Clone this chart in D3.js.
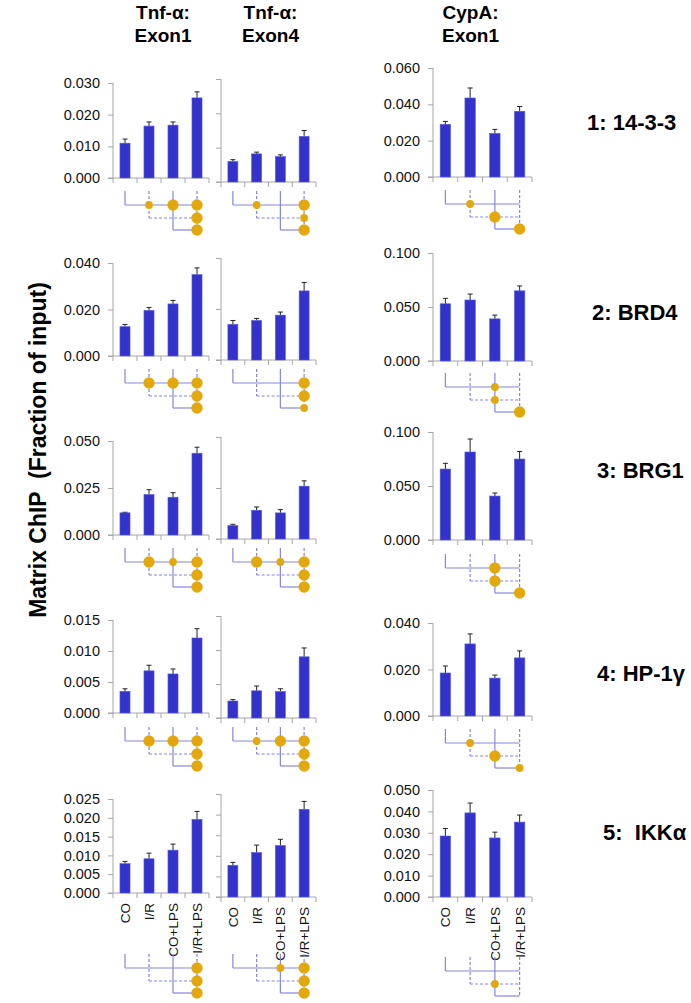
<!DOCTYPE html>
<html>
<head>
<meta charset="utf-8">
<script src="https://cdn.jsdelivr.net/npm/d3@7"></script>
<style>
  body { margin: 0; background: #fff; }
  text { font-family: "Liberation Sans", Arial, sans-serif; white-space: pre; }
</style>
</head>
<body>
<svg id="fig" width="691" height="1003"></svg>
<script>
var categories = ['CO', 'I/R', 'CO+LPS', 'I/R+LPS'];
var rowLabels = ['1: 14-3-3', '2: BRD4', '3: BRG1', '4: HP-1\u03b3', '5:  IKK\u03b1'];
var columnTitles = [['Tnf-\u03b1:', 'Exon1'], ['Tnf-\u03b1:', 'Exon4'], ['CypA:', 'Exon1']];
var yTitle = 'Matrix ChIP  (Fraction of input)';

// Tnf-a exon 1 (mean, upper error)
var exon1Means = [
  [0.0110, 0.0164, 0.0167, 0.0253],
  [0.0126, 0.0196, 0.0224, 0.0350],
  [0.0118, 0.0215, 0.0201, 0.0435],
  [0.0035, 0.0068, 0.0063, 0.0121],
  [0.0078, 0.0091, 0.0114, 0.0196]
];
var exon1Errors = [
  [0.0013, 0.0013, 0.0010, 0.0019],
  [0.0010, 0.0013, 0.0015, 0.0029],
  [0.0003, 0.0026, 0.0024, 0.0032],
  [0.0004, 0.0009, 0.0008, 0.0015],
  [0.0006, 0.0015, 0.0016, 0.0021]
];
// Tnf-a exon 4
var exon4Means = [
  [0.0060, 0.0082, 0.0074, 0.0133],
  [0.0140, 0.0155, 0.0176, 0.0271],
  [0.0066, 0.0141, 0.0128, 0.0259],
  [0.0025, 0.0040, 0.0039, 0.0090],
  [0.0077, 0.0108, 0.0125, 0.0213]
];
var exon4Errors = [
  [0.0005, 0.0005, 0.0005, 0.0017],
  [0.0015, 0.0008, 0.0012, 0.0033],
  [0.0006, 0.0016, 0.0016, 0.0026],
  [0.0002, 0.0007, 0.0004, 0.0013],
  [0.0007, 0.0018, 0.0015, 0.0019]
];
// CypA exon 1
var cypaMeans = [
  [0.0290, 0.0435, 0.0240, 0.0362],
  [0.0530, 0.0565, 0.0390, 0.0650],
  [0.0657, 0.0815, 0.0407, 0.0750],
  [0.0185, 0.0310, 0.0163, 0.0250],
  [0.0285, 0.0393, 0.0276, 0.0350]
];
var cypaErrors = [
  [0.0016, 0.0055, 0.0022, 0.0026],
  [0.0050, 0.0055, 0.0035, 0.0045],
  [0.0053, 0.0120, 0.0028, 0.0070],
  [0.0030, 0.0043, 0.0013, 0.0030],
  [0.0035, 0.0046, 0.0027, 0.0033]
];

var exon1Max = [0.030, 0.040, 0.050, 0.015, 0.025];
var exon1Step = [0.010, 0.020, 0.025, 0.005, 0.005];
var exon4Max = [0.030, 0.040, 0.050, 0.015, 0.025];
var exon4Step = [0.010, 0.020, 0.025, 0.005, 0.005];
var cypaMax = [0.060, 0.100, 0.100, 0.040, 0.050];
var cypaStep = [0.020, 0.050, 0.050, 0.020, 0.010];

// significant comparisons: [from condition, to condition, level 1 = small dot, 2 = big dot]
var exon1Sig = [
  [[1, 2, 1], [1, 3, 2], [1, 4, 2], [2, 4, 2], [3, 4, 2]],
  [[1, 2, 2], [1, 3, 2], [1, 4, 2], [2, 4, 2], [3, 4, 2]],
  [[1, 2, 2], [1, 3, 1], [1, 4, 2], [2, 4, 2], [3, 4, 2]],
  [[1, 2, 2], [1, 3, 2], [1, 4, 2], [2, 4, 2], [3, 4, 2]],
  [[1, 4, 2], [2, 4, 2], [3, 4, 2]]
];
var exon4Sig = [
  [[1, 2, 1], [1, 4, 2], [2, 4, 1], [3, 4, 2]],
  [[1, 4, 2], [2, 4, 2], [3, 4, 1]],
  [[1, 2, 2], [1, 3, 1], [1, 4, 2], [2, 4, 2], [3, 4, 2]],
  [[1, 2, 1], [1, 3, 2], [1, 4, 2], [2, 4, 2], [3, 4, 2]],
  [[1, 3, 1], [1, 4, 2], [2, 4, 2], [3, 4, 2]]
];
var cypaSig = [
  [[1, 2, 1], [2, 3, 2], [3, 4, 2]],
  [[1, 3, 1], [2, 3, 1], [3, 4, 2]],
  [[1, 3, 2], [2, 3, 2], [3, 4, 2]],
  [[1, 2, 1], [2, 3, 2], [3, 4, 1]],
  [[2, 3, 1]]
];

// ---- layout (pixels) ----
var panelX = [[113, 209], [221, 316], [433, 532]];
var panelY = [            // [top, zero] per panel
  [[83, 178], [79, 182], [68, 177]],
  [[263, 356], [258, 360], [253, 361]],
  [[441, 535], [437, 539], [432, 540]],
  [[620, 713], [616, 718], [623, 716]],
  [[799, 893], [794, 897], [790, 897]]
];
var diagramTop = [[191, 190], [369, 373], [548, 554], [727, 729], [954, 957]];
var labelPos = [[587, 122], [592, 312], [597, 470], [597, 673], [603, 832]];

var BAR = '#3333cc', AXIS = '#a6a6a6', LINE = '#8585e0', DOT = '#e3a80c';

var svg = d3.select('#fig');

var panels = [
  {means: exon1Means, errors: exon1Errors, max: exon1Max, step: exon1Step, sig: exon1Sig, labels: true},
  {means: exon4Means, errors: exon4Errors, max: exon4Max, step: exon4Step, sig: exon4Sig, labels: false},
  {means: cypaMeans, errors: cypaErrors, max: cypaMax, step: cypaStep, sig: cypaSig, labels: true}
];

// column headers
columnTitles.forEach(function(t, p) {
  var cx = (panelX[p][0] + panelX[p][1]) / 2 + (p == 2 ? -12 : 2);
  svg.append('text').attr('x', cx).attr('y', 19).attr('text-anchor', 'middle')
    .attr('font-size', 19).attr('font-weight', 'bold').text(t[0]);
  svg.append('text').attr('x', cx).attr('y', 42).attr('text-anchor', 'middle')
    .attr('font-size', 19).attr('font-weight', 'bold').text(t[1]);
});

svg.append('text')
  .attr('transform', 'translate(46,450)rotate(-90)')
  .attr('text-anchor', 'middle')
  .attr('font-size', 23).attr('font-weight', 'bold')
  .text(yTitle);

rowLabels.forEach(function(l, r) {
  svg.append('text').attr('x', labelPos[r][0]).attr('y', labelPos[r][1])
    .attr('dy', '0.36em').attr('font-size', 22).attr('font-weight', 'bold').text(l);
});

function drawPanel(p, r) {
  var P = panels[p];
  var x = d3.scaleBand().domain(categories).range(panelX[p]).paddingInner(0.58).paddingOuter(0.29);
  var y = d3.scaleLinear().domain([0, P.max[r]]).range([panelY[r][p][1], panelY[r][p][0]]);
  var g = svg.append('g');

  var ticks = d3.range(0, P.max[r] + 1e-9, P.step[r]);
  var yAxis = d3.axisLeft(y).tickValues(ticks).tickSize(5).tickPadding(8)
    .tickFormat(P.labels ? d3.format('.3f') : function() { return ''; });
  var ya = g.append('g').attr('transform', 'translate(' + panelX[p][0] + ',0)').call(yAxis);
  ya.select('.domain').attr('stroke', AXIS).attr('d', 'M0,' + y(P.max[r]) + 'V' + y(0));
  ya.selectAll('.tick line').attr('stroke', AXIS);
  ya.selectAll('.tick text').attr('fill', '#111').attr('font-size', 14.5)
    .attr('font-family', '"Liberation Sans", Arial, sans-serif');

  // x axis with ticks on category boundaries
  var bounds = d3.range(0, categories.length + 1).map(function(i) { return panelX[p][0] + i * x.step(); });
  g.append('line').attr('x1', panelX[p][0] - 5).attr('x2', panelX[p][1])
    .attr('y1', y(0)).attr('y2', y(0)).attr('stroke', AXIS);
  g.selectAll('.xt').data(bounds).enter().append('line')
    .attr('x1', function(d) { return d; }).attr('x2', function(d) { return d; })
    .attr('y1', y(0)).attr('y2', y(0) + 5).attr('stroke', AXIS);

  var rows = categories.map(function(c, i) { return {c: c, m: P.means[r][i], e: P.errors[r][i]}; });

  g.selectAll('.err').data(rows).enter().append('path')
    .attr('fill', 'none').attr('stroke', '#222').attr('stroke-width', 1)
    .attr('d', function(d) {
      var cx = x(d.c) + x.bandwidth() / 2, yt = y(d.m + d.e);
      return 'M' + cx + ',' + y(d.m) + 'V' + yt + 'M' + (cx - 2.5) + ',' + yt + 'H' + (cx + 2.5);
    });
  g.selectAll('.bar').data(rows).enter().append('rect')
    .attr('x', function(d) { return x(d.c); })
    .attr('width', x.bandwidth())
    .attr('y', function(d) { return y(d.m); })
    .attr('height', function(d) { return y(0) - y(d.m); })
    .attr('fill', BAR).attr('stroke', '#5a5ae0').attr('stroke-width', 0.6);

  if (r == 4) {
    g.selectAll('.xl').data(categories).enter().append('text')
      .attr('transform', function(d) { return 'translate(' + (x(d) + x.bandwidth() / 2 + 5) + ',' + (y(0) + 10) + ')rotate(-90)'; })
      .attr('text-anchor', 'end').attr('font-size', 13.5)
      .attr('font-family', '"Liberation Sans Narrow", "Liberation Sans", Arial, sans-serif')
      .attr('fill', '#111').text(function(d) { return d; });
  }

  // comparison diagram
  var top = diagramTop[r][p == 2 ? 1 : 0];
  var level = d3.scaleLinear().domain([0, 1, 2, 3]).range([top, top + 14, top + 27, top + 39]);
  var cxOf = function(i) { return x(categories[i - 1]) + x.bandwidth() / 2; };
  var dg = svg.append('g').attr('fill', 'none').attr('stroke', LINE).attr('stroke-width', 1.2);
  [1, 2, 3, 4].forEach(function(c) {
    dg.append('line').attr('x1', cxOf(c)).attr('x2', cxOf(c))
      .attr('y1', level(0)).attr('y2', level(Math.min(c, 3)))
      .attr('stroke-dasharray', c % 2 == 0 ? '3,2' : null);
  });
  [1, 2, 3].forEach(function(rr) {
    dg.append('line').attr('x1', cxOf(rr)).attr('x2', cxOf(4))
      .attr('y1', level(rr)).attr('y2', level(rr))
      .attr('stroke-dasharray', rr == 2 ? '3,2' : null);
  });
  svg.append('g').selectAll('circle').data(P.sig[r]).enter().append('circle')
    .attr('cx', function(d) { return cxOf(d[1]); })
    .attr('cy', function(d) { return level(d[0]); })
    .attr('r', function(d) { return d[2] == 2 ? 5.7 : 3.9; })
    .attr('fill', DOT);
}

for (var r = 0; r < 5; r++) {
  for (var p = 0; p < 3; p++) drawPanel(p, r);
}
</script>
</body>
</html>
